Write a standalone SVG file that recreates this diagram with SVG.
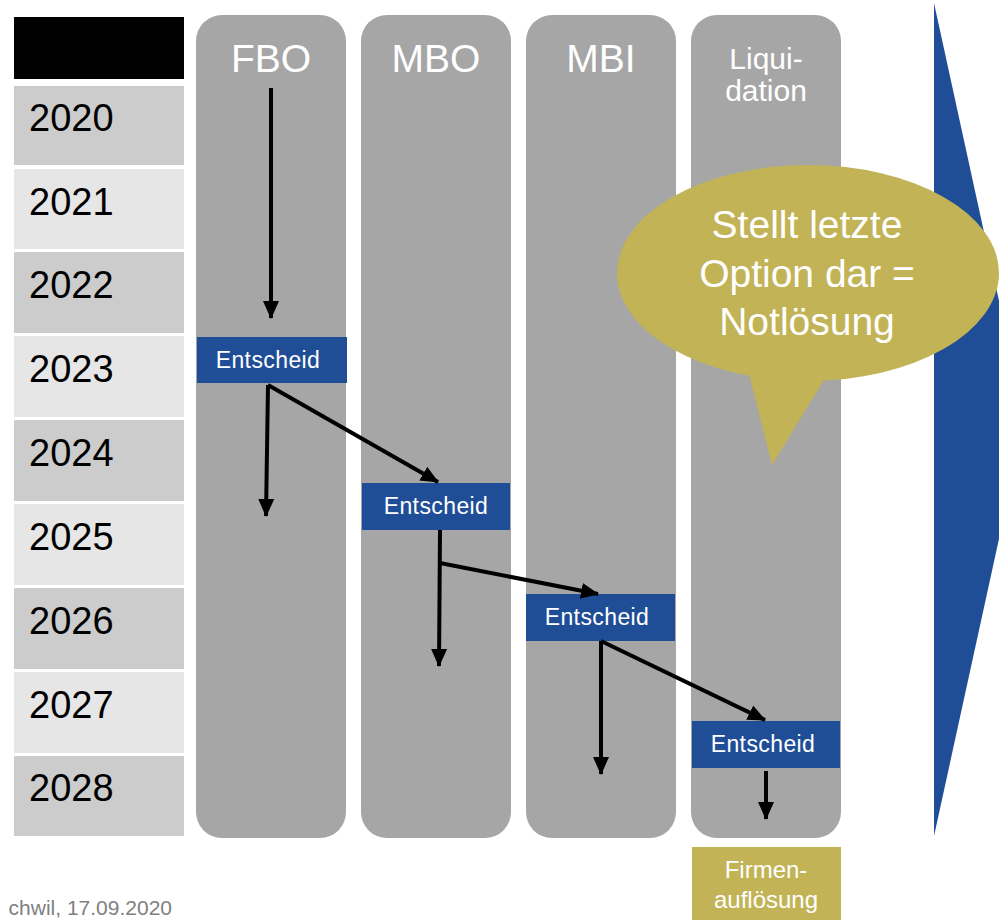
<svg xmlns="http://www.w3.org/2000/svg" width="999" height="920" viewBox="0 0 999 920">
<style>
text{font-family:"Liberation Sans",Arial,sans-serif}
.yr{font-size:38px;fill:#000}
.col{fill:#a6a6a6}
.ttl{font-size:39px;fill:#fff;text-anchor:middle}
.dec rect{fill:#1f4e97}
.dec text{font-size:23px;letter-spacing:0.4px;fill:#fff;text-anchor:middle}
.bt{font-size:39px;fill:#fff;text-anchor:middle}
.cn{stroke:#000;stroke-width:4;fill:none;marker-end:url(#ah)}
</style>
<defs>
<marker id="ah" markerUnits="userSpaceOnUse" markerWidth="18" markerHeight="18" viewBox="0 0 18 18" refX="17" refY="9" orient="auto">
<path d="M0,1 L18,9 L0,17 Z" fill="#000"/>
</marker>
</defs>
<rect width="999" height="920" fill="#fff"/>
<polygon points="934,3 1025,420 934,836" fill="#1f4e97"/>
<g id="years">
<rect x="14" y="17" width="170" height="62" fill="#000"/>
<rect x="14" y="86" width="170" height="79" fill="#cccccc"/>
<rect x="14" y="169" width="170" height="80" fill="#e6e6e6"/>
<rect x="14" y="252" width="170" height="81" fill="#cccccc"/>
<rect x="14" y="336" width="170" height="81" fill="#e6e6e6"/>
<rect x="14" y="420" width="170" height="81" fill="#cccccc"/>
<rect x="14" y="504" width="170" height="81" fill="#e6e6e6"/>
<rect x="14" y="588" width="170" height="81" fill="#cccccc"/>
<rect x="14" y="672" width="170" height="81" fill="#e6e6e6"/>
<rect x="14" y="756" width="170" height="80" fill="#cccccc"/>
<text class="yr" x="29" y="131">2020</text>
<text class="yr" x="29" y="215">2021</text>
<text class="yr" x="29" y="298">2022</text>
<text class="yr" x="29" y="382">2023</text>
<text class="yr" x="29" y="466">2024</text>
<text class="yr" x="29" y="550">2025</text>
<text class="yr" x="29" y="634">2026</text>
<text class="yr" x="29" y="718">2027</text>
<text class="yr" x="29" y="801">2028</text>
</g>
<g id="col-fbo"><rect class="col" x="196" y="15" width="150" height="823" rx="26"/><text class="ttl" x="271" y="72">FBO</text></g>
<g id="col-mbo"><rect class="col" x="361" y="15" width="150" height="823" rx="26"/><text class="ttl" x="436" y="72">MBO</text></g>
<g id="col-mbi"><rect class="col" x="526" y="15" width="150" height="823" rx="26"/><text class="ttl" x="601" y="72">MBI</text></g>
<g id="col-liq"><rect class="col" x="691" y="15" width="150" height="823" rx="26"/><text class="ttl" style="font-size:30px" x="766" y="69">Liqui-</text><text class="ttl" style="font-size:30px" x="766" y="101">dation</text></g>
<g id="bubble">
<ellipse cx="808" cy="273" rx="191" ry="108" fill="#c2b356"/>
<polygon points="748,370 772,465 830,370" fill="#c2b356"/>
<text class="bt" x="807" y="238">Stellt letzte</text>
<text class="bt" x="807" y="287">Option dar =</text>
<text class="bt" x="807" y="335">Notlösung</text>
</g>
<g id="dec-fbo" class="dec"><rect x="197" y="337" width="150" height="46"/><text x="268" y="368">Entscheid</text></g>
<g id="dec-mbo" class="dec"><rect x="362" y="483" width="148" height="47"/><text x="436" y="514">Entscheid</text></g>
<g id="dec-mbi" class="dec"><rect x="526" y="594" width="149" height="47"/><text x="597" y="625">Entscheid</text></g>
<g id="dec-liq" class="dec"><rect x="692" y="721" width="148" height="47"/><text x="763" y="752">Entscheid</text></g>
<g id="firmen">
<rect x="692" y="847" width="149" height="73" fill="#c2b356"/>
<text x="766" y="878" style="font-size:24px;fill:#fff;text-anchor:middle">Firmen-</text>
<text x="766" y="908" style="font-size:24px;fill:#fff;text-anchor:middle">auflösung</text>
</g>
<g id="connectors">
<path class="cn" d="M271,88 L271,318"/>
<path class="cn" d="M268,385 L266,516"/>
<path class="cn" d="M268,385 L438,482"/>
<path class="cn" d="M440,530 L439,666"/>
<path class="cn" d="M440,563 L598,594"/>
<path class="cn" d="M601,641 L601,774"/>
<path class="cn" d="M601,641 L765,720"/>
<path class="cn" d="M766,771 L766,819"/>
</g>
<text x="172" y="915" style="font-size:21px;fill:#808080;text-anchor:end">chwil, 17.09.2020</text>
</svg>
